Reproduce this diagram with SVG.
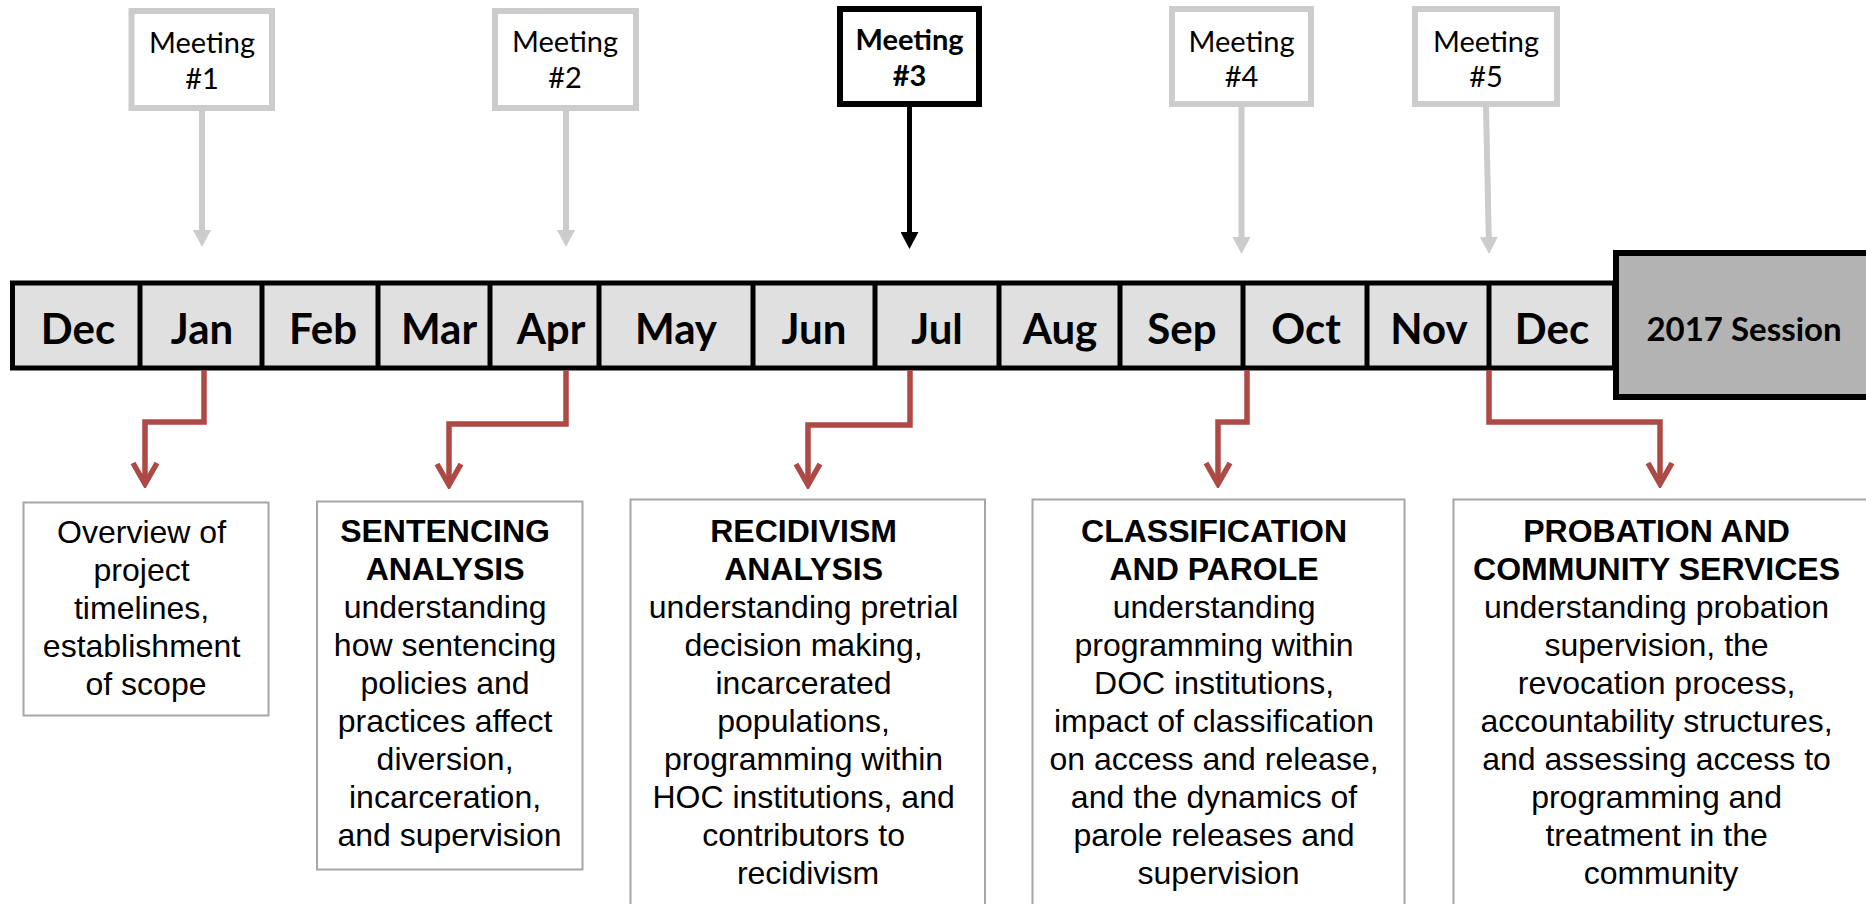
<svg xmlns="http://www.w3.org/2000/svg" width="1866" height="904" viewBox="0 0 1866 904">
  <style>
    .mtg { fill: #ffffff; stroke: #cccccc; stroke-width: 6; }
    .mtg-on { fill: #ffffff; stroke: #000000; stroke-width: 6; }
    .mtg-t { font-family: Lato, "Liberation Sans", sans-serif; font-size: 29px; fill: #000; text-anchor: middle; }
    .mtg-tb { font-weight: bold; }
    .mon { font-family: Lato, "Liberation Sans", sans-serif; font-weight: bold; font-size: 42px; fill: #000; text-anchor: middle; }
    .sess { font-family: Lato, "Liberation Sans", sans-serif; font-weight: bold; font-size: 33px; fill: #000; text-anchor: middle; }
    .card { fill: #ffffff; stroke: #a6a6a6; stroke-width: 2; }
    .card-t { font-family: "Liberation Sans", Arial, sans-serif; font-size: 32px; fill: #000; text-anchor: middle; }
    .hd { font-weight: bold; }
    .gray-ln { fill: none; stroke: #cccccc; stroke-width: 6; }
    .black-ln { fill: none; stroke: #000000; stroke-width: 5; }
    .red-ln { fill: none; stroke: #ad4a45; stroke-width: 5.5; stroke-linejoin: miter; }
  </style>
  <defs>
    <marker id="triGray" viewBox="0 0 17 18" markerWidth="17" markerHeight="18" markerUnits="userSpaceOnUse" refX="1" refY="9" orient="auto">
      <path d="M0,0 L17,9 L0,18 Z" fill="#cccccc"/>
    </marker>
    <marker id="triBlack" viewBox="0 0 17 18" markerWidth="17" markerHeight="18" markerUnits="userSpaceOnUse" refX="1" refY="9" orient="auto">
      <path d="M0,0 L17,9 L0,18 Z" fill="#000000"/>
    </marker>
    <marker id="chev" viewBox="0 0 28 30" markerWidth="28" markerHeight="30" markerUnits="userSpaceOnUse" refX="24" refY="15" orient="auto">
      <path d="M3,3 L24,15 L3,27" fill="none" stroke="#ad4a45" stroke-width="5.5"/>
    </marker>
  </defs>

  <rect width="1866" height="904" fill="#ffffff"/>

  <!-- month bar -->
  <g id="timeline">
    <rect x="12.5" y="283" width="1602" height="85" fill="#e0e0e0" stroke="#000" stroke-width="5"/>
    <g stroke="#000" stroke-width="5">
      <line x1="140" y1="283" x2="140" y2="368"/>
      <line x1="262" y1="283" x2="262" y2="368"/>
      <line x1="378" y1="283" x2="378" y2="368"/>
      <line x1="490" y1="283" x2="490" y2="368"/>
      <line x1="599" y1="283" x2="599" y2="368"/>
      <line x1="753" y1="283" x2="753" y2="368"/>
      <line x1="875" y1="283" x2="875" y2="368"/>
      <line x1="999" y1="283" x2="999" y2="368"/>
      <line x1="1120" y1="283" x2="1120" y2="368"/>
      <line x1="1243" y1="283" x2="1243" y2="368"/>
      <line x1="1367" y1="283" x2="1367" y2="368"/>
      <line x1="1489" y1="283" x2="1489" y2="368"/>
    </g>
    <text class="mon" x="78" y="344">Dec</text>
    <text class="mon" x="202" y="344">Jan</text>
    <text class="mon" x="323" y="344">Feb</text>
    <text class="mon" x="439" y="344">Mar</text>
    <text class="mon" x="551" y="344">Apr</text>
    <text class="mon" x="676" y="344">May</text>
    <text class="mon" x="814" y="344">Jun</text>
    <text class="mon" x="937" y="344">Jul</text>
    <text class="mon" x="1060" y="344">Aug</text>
    <text class="mon" x="1182" y="344">Sep</text>
    <text class="mon" x="1306" y="344">Oct</text>
    <text class="mon" x="1429" y="344">Nov</text>
    <text class="mon" x="1552" y="344">Dec</text>
  </g>

  <g id="session-2017">
    <rect x="1616" y="253" width="262" height="144" fill="#b3b3b3" stroke="#000" stroke-width="6"/>
    <text class="sess" x="1744" y="341">2017 Session</text>
  </g>

  <!-- meetings -->
  <g id="meeting-1">
    <rect class="mtg" x="131.5" y="11" width="140.5" height="97"/>
    <text class="mtg-t" x="202" y="53">Meeting</text>
    <text class="mtg-t" x="202" y="89">#1</text>
  </g>
  <g id="meeting-2">
    <rect class="mtg" x="495" y="11" width="141" height="97"/>
    <text class="mtg-t" x="565" y="52">Meeting</text>
    <text class="mtg-t" x="565" y="88">#2</text>
  </g>
  <g id="meeting-3">
    <rect class="mtg-on" x="840" y="9" width="139" height="95"/>
    <text class="mtg-t mtg-tb" x="909.5" y="50">Meeting</text>
    <text class="mtg-t mtg-tb" x="909.5" y="86">#3</text>
  </g>
  <g id="meeting-4">
    <rect class="mtg" x="1172" y="9" width="139" height="95"/>
    <text class="mtg-t" x="1241.5" y="52">Meeting</text>
    <text class="mtg-t" x="1241.5" y="87">#4</text>
  </g>
  <g id="meeting-5">
    <rect class="mtg" x="1415" y="9" width="142" height="95"/>
    <text class="mtg-t" x="1486" y="52">Meeting</text>
    <text class="mtg-t" x="1486" y="87">#5</text>
  </g>

  <!-- topic cards -->
  <g id="card-overview">
    <rect class="card" x="23.5" y="502.5" width="245" height="213"/>
    <text class="card-t" x="146" y="543">
      <tspan x="146">Overview of</tspan>
      <tspan x="146" dy="38">project</tspan>
      <tspan x="146" dy="38">timelines,</tspan>
      <tspan x="146" dy="38">establishment</tspan>
      <tspan x="146" dy="38">of scope</tspan>
    </text>
  </g>
  <g id="card-sentencing">
    <rect class="card" x="317" y="501.5" width="265.5" height="368"/>
    <text class="card-t" x="449.5" y="542">
      <tspan x="449.5" class="hd">SENTENCING</tspan>
      <tspan x="449.5" dy="38" class="hd">ANALYSIS</tspan>
      <tspan x="449.5" dy="38">understanding</tspan>
      <tspan x="449.5" dy="38">how sentencing</tspan>
      <tspan x="449.5" dy="38">policies and</tspan>
      <tspan x="449.5" dy="38">practices affect</tspan>
      <tspan x="449.5" dy="38">diversion,</tspan>
      <tspan x="449.5" dy="38">incarceration,</tspan>
      <tspan x="449.5" dy="38">and supervision</tspan>
    </text>
  </g>
  <g id="card-recidivism">
    <rect class="card" x="630.5" y="499.5" width="354.5" height="430"/>
    <text class="card-t" x="808" y="542">
      <tspan x="808" class="hd">RECIDIVISM</tspan>
      <tspan x="808" dy="38" class="hd">ANALYSIS</tspan>
      <tspan x="808" dy="38">understanding pretrial</tspan>
      <tspan x="808" dy="38">decision making,</tspan>
      <tspan x="808" dy="38">incarcerated</tspan>
      <tspan x="808" dy="38">populations,</tspan>
      <tspan x="808" dy="38">programming within</tspan>
      <tspan x="808" dy="38">HOC institutions, and</tspan>
      <tspan x="808" dy="38">contributors to</tspan>
      <tspan x="808" dy="38">recidivism</tspan>
    </text>
  </g>
  <g id="card-classification">
    <rect class="card" x="1032.5" y="499.5" width="372" height="430"/>
    <text class="card-t" x="1218.5" y="542">
      <tspan x="1218.5" class="hd">CLASSIFICATION</tspan>
      <tspan x="1218.5" dy="38" class="hd">AND PAROLE</tspan>
      <tspan x="1218.5" dy="38">understanding</tspan>
      <tspan x="1218.5" dy="38">programming within</tspan>
      <tspan x="1218.5" dy="38">DOC institutions,</tspan>
      <tspan x="1218.5" dy="38">impact of classification</tspan>
      <tspan x="1218.5" dy="38">on access and release,</tspan>
      <tspan x="1218.5" dy="38">and the dynamics of</tspan>
      <tspan x="1218.5" dy="38">parole releases and</tspan>
      <tspan x="1218.5" dy="38">supervision</tspan>
    </text>
  </g>
  <g id="card-probation">
    <rect class="card" x="1453.5" y="499.5" width="420" height="430"/>
    <text class="card-t" x="1661" y="542">
      <tspan x="1661" class="hd">PROBATION AND</tspan>
      <tspan x="1661" dy="38" class="hd">COMMUNITY SERVICES</tspan>
      <tspan x="1661" dy="38">understanding probation</tspan>
      <tspan x="1661" dy="38">supervision, the</tspan>
      <tspan x="1661" dy="38">revocation process,</tspan>
      <tspan x="1661" dy="38">accountability structures,</tspan>
      <tspan x="1661" dy="38">and assessing access to</tspan>
      <tspan x="1661" dy="38">programming and</tspan>
      <tspan x="1661" dy="38">treatment in the</tspan>
      <tspan x="1661" dy="38">community</tspan>
    </text>
  </g>

  <!-- connectors -->
  <g id="connectors">
    <path class="gray-ln" d="M202,111 V231" marker-end="url(#triGray)"/>
    <path class="gray-ln" d="M566,111 V231" marker-end="url(#triGray)"/>
    <path class="black-ln" d="M909.5,107 V233" marker-end="url(#triBlack)"/>
    <path class="gray-ln" d="M1241.5,107 V238" marker-end="url(#triGray)"/>
    <path class="gray-ln" d="M1486,107 L1488.8,238" marker-end="url(#triGray)"/>

    <path class="red-ln" d="M204,370 V422 H145 V484" marker-end="url(#chev)"/>
    <path class="red-ln" d="M566,370 V424 H449 V485" marker-end="url(#chev)"/>
    <path class="red-ln" d="M910,370 V425 H808 V485" marker-end="url(#chev)"/>
    <path class="red-ln" d="M1247,370 V422 H1218 V484" marker-end="url(#chev)"/>
    <path class="red-ln" d="M1489,370 V422 H1660 V484" marker-end="url(#chev)"/>
  </g>
</svg>
